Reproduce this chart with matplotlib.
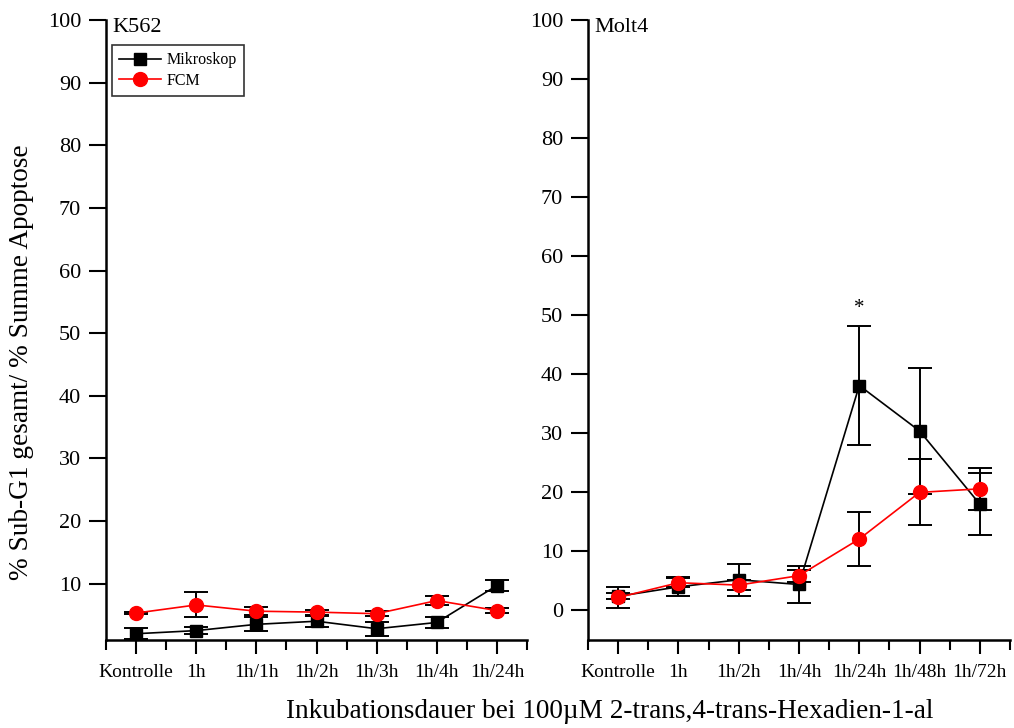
import matplotlib
matplotlib.use("Agg")
import matplotlib.pyplot as plt
from matplotlib.ticker import MultipleLocator, FixedLocator
import numpy as np

plt.rcParams['font.family'] = ['Liberation Serif', 'DejaVu Serif']

# K562
k562_labels = ["Kontrolle", "1h", "1h/1h", "1h/2h", "1h/3h", "1h/4h", "1h/24h"]
k562_mikro = [2.0, 2.5, 3.5, 4.0, 2.8, 3.8, 9.7]
k562_mikro_err = [0.9, 0.5, 1.1, 0.9, 1.15, 0.85, 0.9]
k562_fcm = [5.3, 6.6, 5.6, 5.45, 5.2, 7.3, 5.7]
k562_fcm_err = [0.2, 2.0, 0.6, 0.4, 0.4, 0.7, 0.45]

# Molt4
molt4_labels = ["Kontrolle", "1h", "1h/2h", "1h/4h", "1h/24h", "1h/48h", "1h/72h"]
molt4_mikro = [2.4, 4.0, 5.2, 4.4, 38.1, 30.4, 18.0]
molt4_mikro_err = [0.5, 1.6, 2.7, 3.1, 10.0, 10.6, 5.3]
molt4_fcm = [2.2, 4.7, 4.3, 5.9, 12.1, 20.0, 20.6]
molt4_fcm_err = [1.7, 0.8, 0.8, 1.0, 4.5, 5.6, 3.6]
molt4_signif = ["", "", "", "", "*", "", ""]

W, H = 1014, 728
fig = plt.figure(figsize=(W / 100, H / 100), dpi=100)

ax_l = fig.add_axes([106 / W, 1 - 640 / H, 421 / W, 620 / H])
ax_r = fig.add_axes([588 / W, 1 - 640 / H, 422 / W, 620 / H])


def draw_panel(ax, labels, mikro, mikro_err, fcm, fcm_err, ylim, title):
    x = np.arange(len(labels))
    ax.errorbar(x, mikro, yerr=mikro_err, fmt='none', ecolor='black',
                elinewidth=1.4, capsize=8.5, capthick=1.4, zorder=2)
    ax.errorbar(x, fcm, yerr=fcm_err, fmt='none', ecolor='black',
                elinewidth=1.4, capsize=8.5, capthick=1.4, zorder=2)
    ax.plot(x, mikro, color='black', lw=1.2, marker='s', ms=9,
            mfc='black', mec='black', label='Mikroskop', zorder=3)
    ax.plot(x, fcm, color='red', lw=1.2, marker='o', ms=10,
            mfc='red', mec='red', label='FCM', zorder=4)

    ax.set_xlim(-0.5, len(labels) - 0.5)
    ax.set_ylim(*ylim)
    ax.set_xticks(x)
    ax.set_xticklabels(labels, fontsize=14)
    ax.xaxis.set_minor_locator(FixedLocator(np.arange(-0.5, len(labels), 1.0)))
    ax.yaxis.set_major_locator(MultipleLocator(10))
    ax.tick_params(axis='x', which='major', direction='out', length=10,
                   width=1.5, pad=7)
    ax.tick_params(axis='x', which='minor', direction='out', length=7,
                   width=1.5)
    ax.tick_params(axis='y', which='major', direction='out', length=12,
                   width=1.5, labelsize=16, pad=6)
    for side in ('top', 'right'):
        ax.spines[side].set_visible(False)
    for side in ('left', 'bottom'):
        ax.spines[side].set_linewidth(1.8)
    ax.text(0.014, 1.004, title, transform=ax.transAxes, fontsize=16,
            ha='left', va='top')
    return x


draw_panel(ax_l, k562_labels, k562_mikro, k562_mikro_err, k562_fcm,
           k562_fcm_err, (1, 100), "K562")
ax_l.set_yticks(np.arange(10, 101, 10))
leg = ax_l.legend(loc='upper left', bbox_to_anchor=(0.0143, 0.9597),
                  borderaxespad=0, fontsize=11.5, frameon=True, fancybox=False,
                  edgecolor='black', handlelength=2.6, handletextpad=0.35,
                  labelspacing=0.3, borderpad=0.45)
leg.get_frame().set_linewidth(1.2)

xr = draw_panel(ax_r, molt4_labels, molt4_mikro, molt4_mikro_err, molt4_fcm,
                molt4_fcm_err, (-5, 100), "Molt4")
ax_r.set_yticks(np.arange(0, 101, 10))
for xi, m, e, s in zip(xr, molt4_mikro, molt4_mikro_err, molt4_signif):
    if s:
        ax_r.text(xi, m + e + 1.5, s, ha='center', va='bottom', fontsize=15)

fig.text(22 / W, 1 - 362 / H, "% Sub-G1 gesamt/ % Summe Apoptose",
         rotation=90, ha='center', va='center', fontsize=19.6)
fig.text(610 / W, 1 - 712 / H,
         "Inkubationsdauer bei 100\u00b5M 2-trans,4-trans-Hexadien-1-al",
         ha='center', va='center', fontsize=19.6)

fig.savefig("out.png", dpi=100)
